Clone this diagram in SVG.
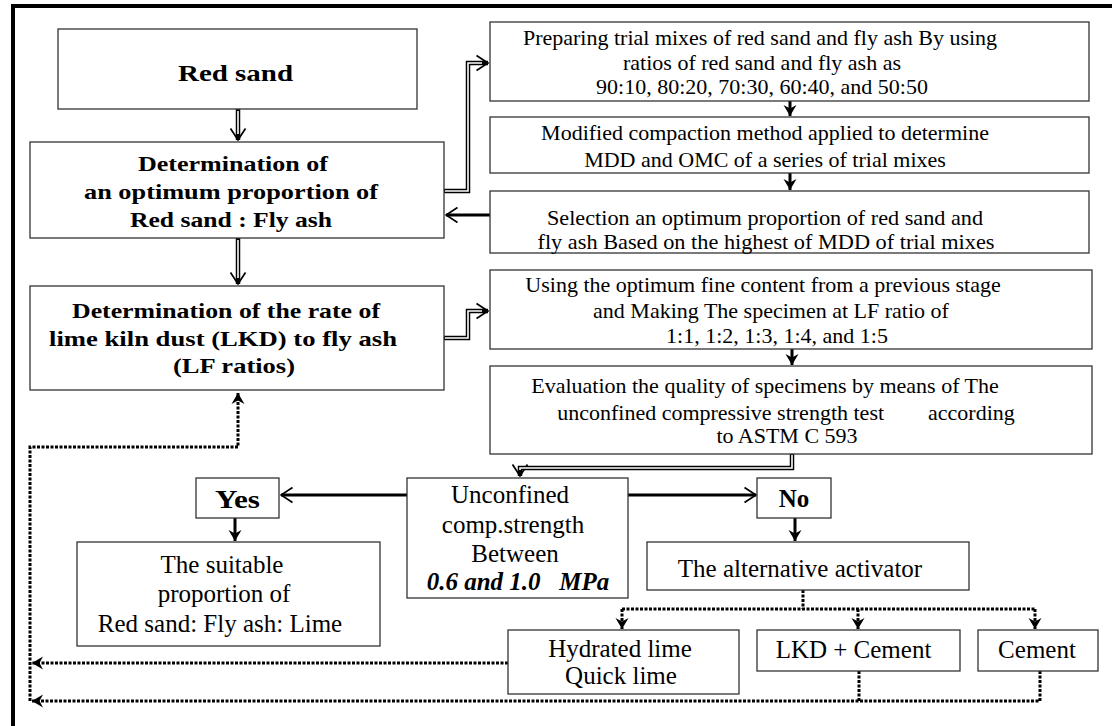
<svg xmlns="http://www.w3.org/2000/svg" width="1112" height="726" viewBox="0 0 1112 726">
<defs>
<marker id="open" markerUnits="userSpaceOnUse" markerWidth="14" markerHeight="18" viewBox="0 0 14 18" refX="12.5" refY="9" orient="auto"><path d="M1,1.5 L12.5,9 L1,16.5" fill="none" stroke="#000" stroke-width="1.7"/></marker>
<marker id="solid" markerUnits="userSpaceOnUse" markerWidth="12" markerHeight="14" viewBox="0 0 12 14" refX="11" refY="7" orient="auto"><path d="M0,0.5 L11,7 L0,13.5 L3.5,7 Z" fill="#000"/></marker>
</defs>
<style>
.box{fill:#fff;stroke:#333;stroke-width:1.3}
.bt{font-family:"Liberation Serif","Times New Roman",serif;font-weight:bold;fill:#000}
.rt{font-family:"Liberation Serif","Times New Roman",serif;fill:#000}
.dbo{fill:none;stroke:#000;stroke-width:4.5}
.dbi{fill:none;stroke:#fff;stroke-width:1.6}
.thick{fill:none;stroke:#000;stroke-width:3}
.dot{fill:none;stroke:#000;stroke-width:3;stroke-dasharray:3 1.5}
</style>
<rect x="13" y="6" width="1200" height="800" fill="#fff" stroke="#000" stroke-width="4"/>

<g id="connectors">
  <path class="dbo" d="M238,109 V140" marker-end="url(#open)"/>
  <path class="dbi" d="M238,111 V134"/>
  <path class="dbo" d="M238,238 V284" marker-end="url(#open)"/>
  <path class="dbi" d="M238,240 V278"/>
  <path class="dbo" d="M444,191 H468 V63 H488" marker-end="url(#open)"/>
  <path class="dbi" d="M445,191 H468 V63 H482"/>
  <path class="dbo" d="M444,338 H468 V311 H488" marker-end="url(#open)"/>
  <path class="dbi" d="M445,338 H468 V311 H482"/>
  <path class="dbo" d="M792,454 V468 H520 V476" marker-end="url(#open)"/>
  <path class="dbi" d="M792,455 V468 H520 V470"/>
  <path class="thick" d="M790,101 V116" marker-end="url(#solid)"/>
  <path class="thick" d="M790,173 V190" marker-end="url(#solid)"/>
  <path class="thick" d="M792,349 V365" marker-end="url(#solid)"/>
  <path class="thick" d="M490,215 H446" marker-end="url(#open)"/>
  <path class="thick" d="M407,495 H281" marker-end="url(#open)"/>
  <path class="thick" d="M628,495 H756" marker-end="url(#open)"/>
  <path class="thick" d="M235,518 V541" marker-end="url(#solid)"/>
  <path class="thick" d="M795,518 V541" marker-end="url(#solid)"/>
  <path class="dot" d="M803,590 V609"/>
  <path class="dot" d="M622,609 H1035"/>
  <path class="dot" d="M622,609 V629" marker-end="url(#solid)"/>
  <path class="dot" d="M858,609 V629" marker-end="url(#solid)"/>
  <path class="dot" d="M1035,609 V629" marker-end="url(#solid)"/>
  <path class="dot" d="M508,663 H32" marker-end="url(#solid)"/>
  <path class="dot" d="M859,671 V701"/>
  <path class="dot" d="M1040,671 V701 H32" marker-end="url(#solid)"/>
  <path class="dot" d="M30,701 V447 H238 V393" marker-end="url(#solid)"/>
</g>

<g id="red-sand">
  <rect class="box" x="58" y="29" width="359" height="80"/>
  <text class="bt" x="235.5" y="81" font-size="24" text-anchor="middle" textLength="115" lengthAdjust="spacingAndGlyphs">Red sand</text>
</g>
<g id="optimum-proportion">
  <rect class="box" x="30" y="142" width="414" height="96"/>
  <text class="bt" x="233" y="171" font-size="22" text-anchor="middle" textLength="190" lengthAdjust="spacingAndGlyphs">Determination of</text>
  <text class="bt" x="231" y="199" font-size="22" text-anchor="middle" textLength="294" lengthAdjust="spacingAndGlyphs">an optimum proportion of</text>
  <text class="bt" x="231" y="227" font-size="22" text-anchor="middle" textLength="202" lengthAdjust="spacingAndGlyphs">Red sand : Fly ash</text>
</g>
<g id="lf-ratio">
  <rect class="box" x="30" y="286" width="414" height="104"/>
  <text class="bt" x="226" y="318" font-size="22" text-anchor="middle" textLength="308" lengthAdjust="spacingAndGlyphs">Determination of the rate of</text>
  <text class="bt" x="223" y="346" font-size="22" text-anchor="middle" textLength="348" lengthAdjust="spacingAndGlyphs">lime kiln dust (LKD) to fly ash</text>
  <text class="bt" x="234" y="373" font-size="22" text-anchor="middle" textLength="122" lengthAdjust="spacingAndGlyphs">(LF ratios)</text>
</g>
<g id="preparing">
  <rect class="box" x="490" y="22" width="599" height="79"/>
  <text class="rt" x="760" y="45" font-size="22" text-anchor="middle">Preparing trial mixes of red sand and fly ash By using</text>
  <text class="rt" x="762" y="70" font-size="22" text-anchor="middle">ratios of red sand and fly ash as</text>
  <text class="rt" x="762" y="94" font-size="22" text-anchor="middle">90:10, 80:20, 70:30, 60:40, and 50:50</text>
</g>
<g id="modified">
  <rect class="box" x="490" y="117" width="599" height="56"/>
  <text class="rt" x="765" y="140" font-size="22" text-anchor="middle">Modified compaction method applied to determine</text>
  <text class="rt" x="765" y="167" font-size="22" text-anchor="middle">MDD and OMC of a series of trial mixes</text>
</g>
<g id="selection">
  <rect class="box" x="490" y="191" width="599" height="62"/>
  <text class="rt" x="765" y="225" font-size="21.5" text-anchor="middle" textLength="436" lengthAdjust="spacingAndGlyphs">Selection an optimum proportion of red sand and</text>
  <text class="rt" x="766" y="249" font-size="21.5" text-anchor="middle" textLength="457" lengthAdjust="spacingAndGlyphs">fly ash Based on the highest of MDD of trial mixes</text>
</g>
<g id="using">
  <rect class="box" x="490" y="270" width="602" height="79"/>
  <text class="rt" x="763" y="292" font-size="22" text-anchor="middle">Using the optimum fine content from a previous stage</text>
  <text class="rt" x="771" y="318" font-size="22" text-anchor="middle">and Making The specimen at LF ratio of</text>
  <text class="rt" x="777" y="343" font-size="22" text-anchor="middle">1:1, 1:2, 1:3, 1:4, and 1:5</text>
</g>
<g id="evaluation">
  <rect class="box" x="490" y="366" width="602" height="88"/>
  <text class="rt" x="765" y="393" font-size="22" text-anchor="middle">Evaluation the quality of specimens by means of The</text>
  <text class="rt" x="786" y="420" font-size="22" text-anchor="middle" xml:space="preserve">unconfined compressive strength test        according</text>
  <text class="rt" x="787" y="443" font-size="22" text-anchor="middle">to ASTM C 593</text>
</g>
<g id="unconfined">
  <rect class="box" x="407" y="478" width="221" height="120"/>
  <text class="rt" x="510" y="503" font-size="25" text-anchor="middle">Unconfined</text>
  <text class="rt" x="513" y="533" font-size="25" text-anchor="middle">comp.strength</text>
  <text class="rt" x="515" y="562" font-size="25" text-anchor="middle">Between</text>
  <text class="bt" x="518" y="590" font-size="25" font-style="italic" text-anchor="middle" xml:space="preserve">0.6 and 1.0   MPa</text>
</g>
<g id="yes">
  <rect class="box" x="196" y="478" width="83" height="40"/>
  <text class="bt" x="237.5" y="508" font-size="25" text-anchor="middle" textLength="45" lengthAdjust="spacingAndGlyphs">Yes</text>
</g>
<g id="no">
  <rect class="box" x="757" y="478" width="74" height="40"/>
  <text class="bt" x="794" y="507" font-size="25" text-anchor="middle">No</text>
</g>
<g id="suitable">
  <rect class="box" x="77" y="542" width="303" height="104"/>
  <text class="rt" x="222" y="573" font-size="25" text-anchor="middle">The suitable</text>
  <text class="rt" x="224" y="602" font-size="25" text-anchor="middle">proportion of</text>
  <text class="rt" x="220" y="632" font-size="25" text-anchor="middle">Red sand: Fly ash: Lime</text>
</g>
<g id="alternative">
  <rect class="box" x="647" y="542" width="322" height="48"/>
  <text class="rt" x="800" y="577" font-size="25" text-anchor="middle">The alternative activator</text>
</g>
<g id="hydrated-lime">
  <rect class="box" x="508" y="630" width="231" height="64"/>
  <text class="rt" x="620" y="657" font-size="25" text-anchor="middle">Hydrated lime</text>
  <text class="rt" x="621" y="684" font-size="25" text-anchor="middle">Quick lime</text>
</g>
<g id="lkd-cement">
  <rect class="box" x="757" y="630" width="203" height="41"/>
  <text class="rt" x="853.5" y="658" font-size="25" text-anchor="middle">LKD + Cement</text>
</g>
<g id="cement">
  <rect class="box" x="978" y="630" width="120" height="41"/>
  <text class="rt" x="1037" y="658" font-size="25" text-anchor="middle">Cement</text>
</g>
</svg>
